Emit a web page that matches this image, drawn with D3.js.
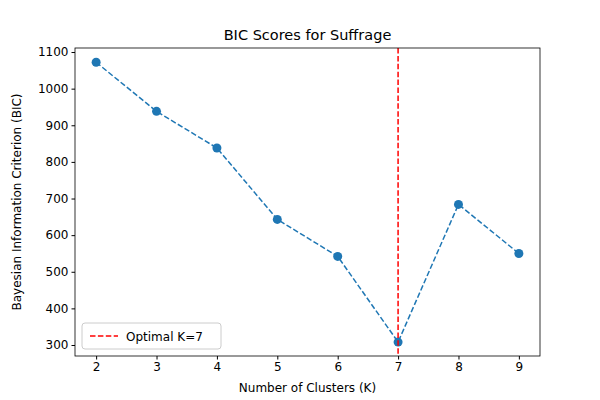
<!DOCTYPE html>
<html><head><meta charset="utf-8">
<script src="https://cdn.jsdelivr.net/npm/d3@7"></script>
<style>body{margin:0;background:#fff}text{font-family:"DejaVu Sans",sans-serif}</style>
</head><body><svg id="c" width="600" height="400"></svg>
<script>
var clusters = [2, 3, 4, 5, 6, 7, 8, 9];
var bicScores = [1072, 938, 838, 643, 542, 308, 684, 550];
var yTicks = [300, 400, 500, 600, 700, 800, 900, 1000, 1100];
var optimalK = 7;

var svg = d3.select("#c");
var mLeft = 75, mRight = 540, mTop = 48, mBottom = 356;
var x = d3.scaleLinear().domain([1.65, 9.35]).range([mLeft, mRight]);
var y = d3.scaleLinear().domain([270, 1111]).range([mBottom, mTop]);

svg.append("g").attr("transform", "translate(0," + mBottom + ")")
  .call(d3.axisBottom(x).tickValues(clusters).tickFormat(d3.format("d")).tickSize(3.5).tickPadding(3));
svg.append("g").attr("transform", "translate(" + mLeft + ",0)")
  .call(d3.axisLeft(y).tickValues(yTicks).tickFormat(d3.format("d")).tickSize(3.5).tickPadding(3));
svg.selectAll(".domain").remove();
svg.selectAll(".tick text").attr("font-size", 12).attr("fill", "#000").style("font-family", "DejaVu Sans");
svg.selectAll(".tick line").attr("stroke", "#000");

// dashed blue line
var line = d3.line().x(function(d, i) { return x(clusters[i]); }).y(function(d) { return y(d); });
svg.append("path").datum(bicScores).attr("d", line)
  .attr("fill", "none").attr("stroke", "#1f77b4").attr("stroke-width", 1.5).attr("stroke-dasharray", "5.5,2.4");
svg.selectAll("circle.pt").data(bicScores).enter().append("circle")
  .attr("class", "pt").attr("cx", function(d, i) { return x(clusters[i]); }).attr("cy", function(d) { return y(d); })
  .attr("r", 4.5).attr("fill", "#1f77b4");

// optimal K
svg.append("line").attr("x1", x(optimalK)).attr("x2", x(optimalK)).attr("y1", mTop).attr("y2", mBottom)
  .attr("stroke", "red").attr("stroke-width", 1.5).attr("stroke-dasharray", "5.5,2.4");

svg.append("rect").attr("x", mLeft).attr("y", mTop).attr("width", mRight - mLeft).attr("height", mBottom - mTop)
  .attr("fill", "none").attr("stroke", "#000").attr("stroke-width", 0.8);

svg.append("text").attr("x", (mLeft + mRight) / 2).attr("y", 40).attr("text-anchor", "middle")
  .attr("font-size", 14.5).text("BIC Scores for Suffrage");
svg.append("text").attr("x", (mLeft + mRight) / 2).attr("y", 392).attr("text-anchor", "middle")
  .attr("font-size", 12).text("Number of Clusters (K)");
svg.append("text").attr("transform", "translate(21," + (mTop + mBottom) / 2 + ") rotate(-90)")
  .attr("text-anchor", "middle").attr("font-size", 12).text("Bayesian Information Criterion (BIC)");

// legend
var lg = svg.append("g").attr("transform", "translate(82,323)");
lg.append("rect").attr("width", 139).attr("height", 26).attr("rx", 3).attr("fill", "#fff")
  .attr("stroke", "#ccc").attr("stroke-width", 1);
lg.append("line").attr("x1", 8).attr("x2", 36).attr("y1", 13).attr("y2", 13)
  .attr("stroke", "red").attr("stroke-width", 1.5).attr("stroke-dasharray", "5.5,2.4");
lg.append("text").attr("x", 44).attr("y", 17.5).attr("font-size", 12).text("Optimal K=" + optimalK);
</script></body></html>
